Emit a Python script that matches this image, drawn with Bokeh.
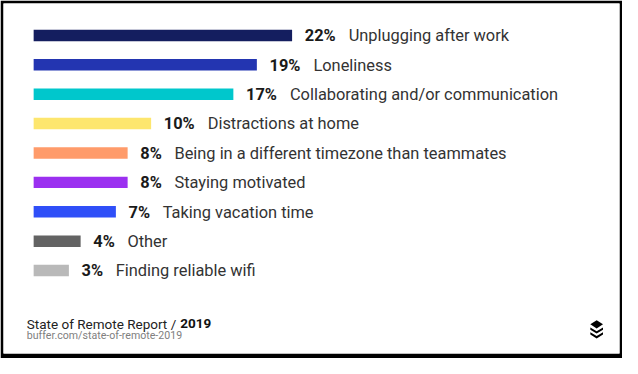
from bokeh.plotting import figure
from bokeh.models import ColumnDataSource, Range1d
from bokeh.core.properties import value
from bokeh.embed import file_html
from bokeh.resources import INLINE

# ---- data ----
categories = [
    "Unplugging after work",
    "Loneliness",
    "Collaborating and/or communication",
    "Distractions at home",
    "Being in a different timezone than teammates",
    "Staying motivated",
    "Taking vacation time",
    "Other",
    "Finding reliable wifi",
]
values = [22, 19, 17, 10, 8, 8, 7, 4, 3]
colors = ["#141e5f", "#2335b1", "#00c7cc", "#fde66e", "#ff9b6a",
          "#9b30f0", "#2f4ff8", "#636363", "#b9b9b9"]
title_text = "State of Remote Report / "
title_year = "2019"
source_text = "buffer.com/state-of-remote-2019"

# ---- layout (figure pixels; reference scaled to fit the page) ----
W, H = 622, 358
SX, SY = W / 638, H / 374
SF = (SX + SY) / 2
BL, BT, BR, BB = 3, 3, 3, 5
FW, FH = W - BL - BR, H - BT - BB
PX_PER_PCT = 12.05 * SX
ZERO_X = 34 * SX
ROW_PX = 30.7 * SY
ROW0_Y = 36.5 * SY
TEXT_DY = -5  # empirical correction for text baseline placement

x0 = (BL - ZERO_X) / PX_PER_PCT
x1 = x0 + FW / PX_PER_PCT
y_top = (BT - ROW0_Y) / ROW_PX
y_bot = y_top + FH / ROW_PX


def dx(rx):  # reference pixel x -> data x
    return x0 + (rx * SX - BL) / PX_PER_PCT


def dy(ry):  # reference pixel y -> data y
    return y_top + (ry * SY - BT) / ROW_PX


def fs(px):
    return f"{px * SF:.1f}px"


rank = list(range(len(categories)))
pct_labels = [f"{v}%" for v in values]
lab_off = [(28 + 10 * len(s)) * SX for s in pct_labels]

src = ColumnDataSource(dict(rank=rank, value=values, color=colors,
                            cat=categories, pct=pct_labels, off=lab_off))

p = figure(width=W, height=H, output_backend="svg", toolbar_location=None,
           x_range=Range1d(x0, x1), y_range=Range1d(y_bot, y_top),
           x_axis_location=None, y_axis_location=None,
           min_border_left=BL, min_border_top=BT, min_border_right=BR,
           min_border_bottom=BB)
p.border_fill_color = "black"
p.background_fill_color = "white"
p.outline_line_color = None
p.grid.visible = False

p.hbar(y="rank", left=0, right="value", height=12 * SY / ROW_PX,
       fill_color="color", line_color=None, source=src)

row_dy = 5.5 * SY + TEXT_DY
p.text(x="value", y="rank", text="pct", x_offset=13 * SX, y_offset=row_dy,
       text_font=value("Roboto"), text_font_size=fs(17),
       text_font_style="bold", text_color="#1a1a1a",
       text_baseline="alphabetic", source=src)
p.text(x="value", y="rank", text="cat", x_offset="off", y_offset=row_dy,
       text_font=value("Roboto"), text_font_size=fs(17),
       text_color="#333333", text_baseline="alphabetic", source=src)

# footer
p.text(x=[dx(27)], y=[dy(343)], text=[title_text], y_offset=TEXT_DY,
       text_font=value("Roboto"), text_font_size=fs(14),
       text_color="#222222", text_baseline="alphabetic")
p.text(x=[dx(184.5)], y=[dy(343)], text=[title_year], y_offset=TEXT_DY,
       text_font=value("Roboto"), text_font_size=fs(14),
       text_font_style="bold", text_color="#111111",
       text_baseline="alphabetic")
p.text(x=[dx(27)], y=[dy(355.5)], text=[source_text], y_offset=TEXT_DY,
       text_font=value("Roboto"), text_font_size=fs(11),
       text_color="#808080", text_baseline="alphabetic")

# buffer logo (decoration), in reference pixels
cx, hw = 611.5, 6.5
diamond_x = [cx, cx + hw, cx, cx - hw]
diamond_y = [334, 338.3, 342.6, 338.3]
p.patch([dx(v) for v in diamond_x], [dy(v) for v in diamond_y],
        fill_color="black", line_color=None)
for top in (341.5, 346.5):
    chev_x = [cx - hw, cx, cx + hw, cx + hw, cx, cx - hw]
    chev_y = [top, top + 4, top, top + 2.5, top + 6.5, top + 2.5]
    p.patch([dx(v) for v in chev_x], [dy(v) for v in chev_y],
            fill_color="black", line_color=None)

open("out.html", "w").write(file_html(p, INLINE))
